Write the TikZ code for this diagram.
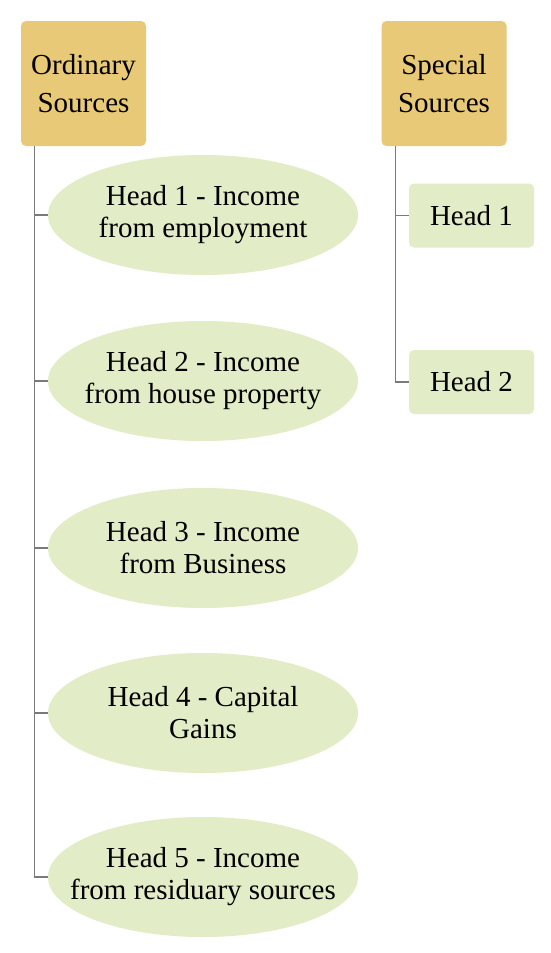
\documentclass[tikz,border=0pt]{standalone}
\usepackage{fontspec}
\setmainfont{LiberationSerif}[Extension=.ttf, UprightFont=*-Regular, BoldFont=*-Bold]
\usetikzlibrary{shapes.geometric}
\definecolor{gold}{HTML}{E8C977}
\definecolor{leaf}{HTML}{E2ECC6}
\definecolor{wire}{HTML}{7A7A7A}
\begin{document}
\begin{tikzpicture}[x=1pt,y=-1pt,
  txt/.style={font=\rmfamily\fontsize{29}{32}\selectfont, align=center, text=black},
  topbox/.style={txt, font=\rmfamily\fontsize{29}{38}\selectfont, fill=gold, rounded corners=5pt, minimum width=125pt, minimum height=125pt, inner sep=0pt},
  leafbox/.style={txt, fill=leaf, rounded corners=5pt, minimum width=125pt, minimum height=64pt, inner sep=0pt},
  leafell/.style={txt, ellipse, fill=leaf, minimum width=310pt, minimum height=120pt, inner xsep=-60pt, inner ysep=-10pt},
  conn/.style={draw=wire, line width=1.3pt}]
\useasboundingbox (0,0) rectangle (550,953);
\fill[white] (0,0) rectangle (550,953);
\node[topbox] (ord) at (83.5,83.5) {Ordinary\\Sources};
\node[topbox] (spe) at (444,83.5) {Special\\Sources};
\node[leafell] (e1) at (203,215) {Head 1 - Income\\from employment};
\node[leafell] (e2) at (203,381) {Head 2 - Income\\from house property};
\node[leafell] (e3) at (203,548) {Head 3 - Income\\from Business};
\node[leafell] (e4) at (203,713) {Head 4 - Capital\\Gains};
\node[leafell] (e5) at (203,877) {Head 5 - Income\\from residuary sources};
\node[leafbox] (s1) at (471.5,215.5) {Head 1};
\node[leafbox] (s2) at (471.5,382) {Head 2};
\coordinate (ta) at ([xshift=14pt]ord.south west);
\coordinate (tb) at ([xshift=14pt]spe.south west);
\draw[conn] (ta) |- (e5.west);
\draw[conn] (ta |- e1.west) -- (e1.west);
\draw[conn] (ta |- e2.west) -- (e2.west);
\draw[conn] (ta |- e3.west) -- (e3.west);
\draw[conn] (ta |- e4.west) -- (e4.west);
\draw[conn] (tb) |- (s2.west);
\draw[conn] (tb |- s1.west) -- (s1.west);
\end{tikzpicture}
\end{document}
